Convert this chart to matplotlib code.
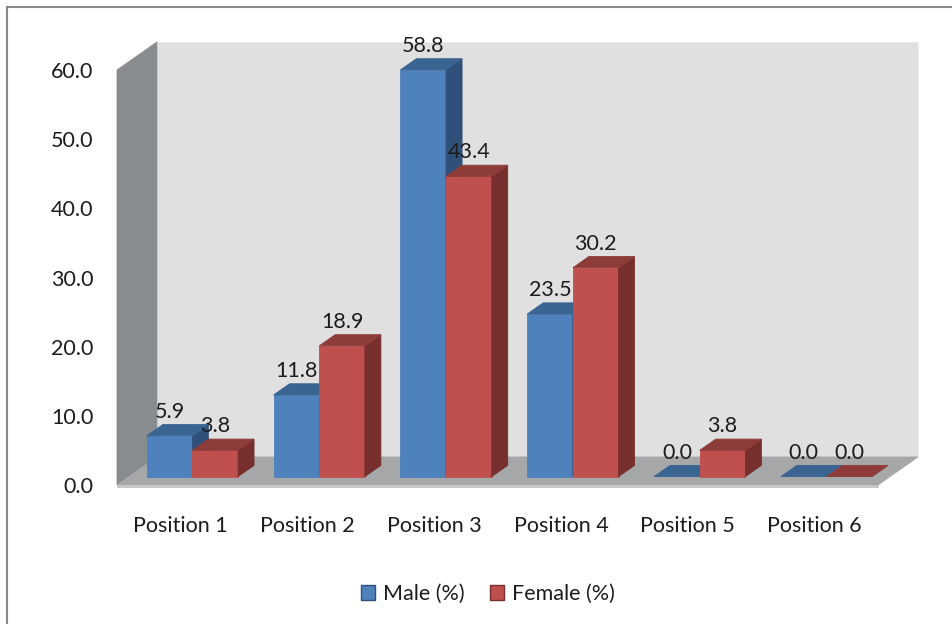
import matplotlib.pyplot as plt
from matplotlib.patches import Polygon, Patch
from matplotlib.lines import Line2D

categories = ["Position 1", "Position 2", "Position 3", "Position 4", "Position 5", "Position 6"]
male = [5.9, 11.8, 58.8, 23.5, 0.0, 0.0]
female = [3.8, 18.9, 43.4, 30.2, 3.8, 0.0]
series_names = ["Male (%)", "Female (%)"]
y_ticks = [0, 10, 20, 30, 40, 50, 60]

plt.rcParams["font.family"] = ["Lato", "DejaVu Sans"]
TEXT = "#1c1c1c"
FS = 15.5

# front, top, side shades for each series
BLUE = ("#4f81bd", "#3a6491", "#2f5078")
RED = ("#c0504d", "#8e3c3a", "#772f2d")

W, H = 952, 624
fig = plt.figure(figsize=(W / 100, H / 100), dpi=100)
ax = fig.add_axes([117 / W, 1 - 485 / H, 761 / W, 415 / H])
ax.set_xlim(0, len(categories))
ax.set_ylim(0, 60)
ax.patch.set_visible(False)
for s in ax.spines.values():
    s.set_visible(False)

# oblique depth vector (full depth of the plot box) in data units
DX, DY = 0.315, 4.05
BAR_W = 0.36
GROUP_PAD = (1 - 2 * BAR_W) / 2
D0, D1 = 0.3, 0.7


def p(x, y, d):
    return (x + d * DX, y + d * DY)


def face(pts, color, z, edge=None):
    ax.add_patch(Polygon(pts, closed=True, facecolor=color,
                         edgecolor=edge or color, lw=0.6, zorder=z,
                         clip_on=False))


def box(x0, v, colors, z):
    front, top, side = colors
    x1 = x0 + BAR_W
    if v > 0:
        face([p(x0, 0, D0), p(x1, 0, D0), p(x1, v, D0), p(x0, v, D0)], front, z)
        face([p(x1, 0, D0), p(x1, 0, D1), p(x1, v, D1), p(x1, v, D0)], side, z)
    face([p(x0, v, D0), p(x1, v, D0), p(x1, v, D1), p(x0, v, D1)], top, z)
    ax.annotate(f"{v:.1f}", xy=((x0 + x1) / 2 + D0 * DX, v + D1 * DY),
                xytext=(0, 2), textcoords="offset points",
                ha="center", va="bottom", fontsize=FS, color=TEXT,
                zorder=z + 0.5, annotation_clip=False)


n = len(categories)
# walls and floor
face([p(0, 0, 1), p(n, 0, 1), p(n, 60, 1), p(0, 60, 1)], "#e0e0e0", 1, "#ebebeb")
face([p(0, 0, 0), p(0, 0, 1), p(0, 60, 1), p(0, 60, 0)], "#898c8e", 2)
face([p(0, 0, 0), p(n, 0, 0), p(n, 0, 1), p(0, 0, 1)], "#a5a7a8", 3)
face([p(0, -0.35, 0), p(n, -0.35, 0), p(n, 0, 0), p(0, 0, 0)], "#c4c6c7", 3)

z = 10
for i in range(n):
    box(i + GROUP_PAD, male[i], BLUE, z)
    box(i + GROUP_PAD + BAR_W, female[i], RED, z + 1)
    z += 2

ax.set_yticks(y_ticks)
ax.set_yticklabels([f"{t:.1f}" for t in y_ticks], fontsize=FS, color=TEXT)
ax.set_xticks([i + 0.5 for i in range(n)])
ax.set_xticklabels(categories, fontsize=FS, color=TEXT)
ax.tick_params(axis="y", length=0, pad=17)
ax.tick_params(axis="x", length=0, pad=22)

handles = [Patch(facecolor=BLUE[0], edgecolor=BLUE[2], lw=1),
           Patch(facecolor=RED[0], edgecolor=RED[2], lw=1)]
fig.legend(handles, series_names, loc="center",
           bbox_to_anchor=(488 / W, 1 - 594 / H), ncol=2, frameon=False,
           fontsize=FS, labelcolor=TEXT, handlelength=0.65, handleheight=0.65,
           handletextpad=0.35, columnspacing=1.2)

# outer chart border (left and top edges)
fig.add_artist(Line2D([7 / W, 7 / W], [0, 1 - 7 / H], transform=fig.transFigure,
                      color="#8a8a8a", lw=1.5))
fig.add_artist(Line2D([7 / W, 1], [1 - 7 / H, 1 - 7 / H], transform=fig.transFigure,
                      color="#8a8a8a", lw=1.5))

fig.savefig("out.png", dpi=100, facecolor="white")
